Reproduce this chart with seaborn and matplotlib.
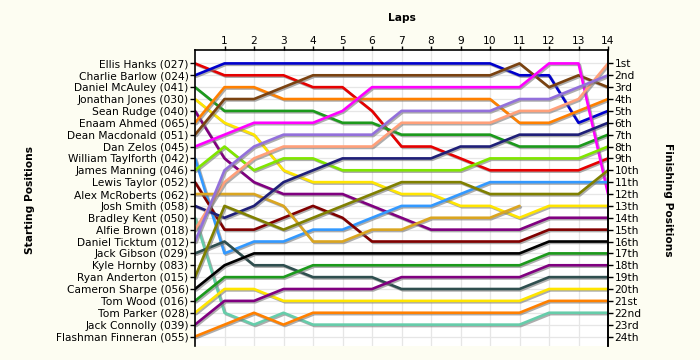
import matplotlib
matplotlib.use("Agg")
import matplotlib.pyplot as plt
import matplotlib.patheffects as pe
import pandas as pd
import seaborn as sns

# lap 0 = grid position, laps 1-14 = position at end of each lap
laps = list(range(15))

drivers = [
    "Ellis Hanks (027)", "Charlie Barlow (024)", "Daniel McAuley (041)",
    "Jonathan Jones (030)", "Sean Rudge (040)", "Enaam Ahmed (065)",
    "Dean Macdonald (051)", "Dan Zelos (045)", "William Taylforth (042)",
    "James Manning (046)", "Lewis Taylor (052)", "Alex McRoberts (062)",
    "Josh Smith (058)", "Bradley Kent (050)", "Alfie Brown (018)",
    "Daniel Ticktum (012)", "Jack Gibson (029)", "Kyle Hornby (083)",
    "Ryan Anderton (015)", "Cameron Sharpe (056)", "Tom Wood (016)",
    "Tom Parker (028)", "Jack Connolly (039)", "Flashman Finneran (055)",
]

# one list per driver, same order as drivers (None = no line drawn)
lap_positions = [
    [1, 2, 2, 2, 3, 3, 5, 8, 8, 9, 10, 10, 10, 10, 9],
    [2, 1, 1, 1, 1, 1, 1, 1, 1, 1, 1, 2, 2, 6, 5],
    [3, 5, 5, 5, 5, 6, 6, 7, 7, 7, 7, 8, 8, 8, 7],
    [4, 6, 7, 10, 11, 11, 11, 12, 12, 13, 13, 14, 13, 13, 13],
    [5, 9, 11, 12, 12, 12, 13, 14, 15, 15, 15, 15, 14, 14, 14],
    [6, 3, 3, 4, 4, 4, 4, 4, 4, 4, 4, 6, 6, 5, 4],
    [7, 4, 4, 3, 2, 2, 2, 2, 2, 2, 2, 1, 3, 2, 3],
    [8, 7, 6, 6, 6, 5, 3, 3, 3, 3, 3, 3, 1, 1, 12],
    [9, 17, 16, 16, 15, 15, 14, 13, 13, 12, 11, 11, 11, 11, 11],
    [10, 8, 10, 9, 9, 10, 10, 10, 10, 10, 9, 9, 9, 9, 8],
    [11, 15, 15, 14, 13, 14, 16, 16, 16, 16, 16, 16, 15, 15, 15],
    [12, 12, 12, 13, 16, 16, 15, 15, 14, 14, 14, 13, None, None, None],
    [13, 14, 13, 11, 10, 9, 9, 9, 9, 8, 8, 7, 7, 7, 6],
    [14, 22, 23, 22, 23, 23, 23, 23, 23, 23, 23, 23, 22, 22, 22],
    [15, 11, 9, 8, 8, 8, 8, 6, 6, 6, 6, 5, 5, 4, 1],
    [16, 10, 8, 7, 7, 7, 7, 5, 5, 5, 5, 4, 4, 3, 2],
    [17, 16, 18, 18, 19, 19, 19, 20, 20, 20, 20, 20, 19, 19, 19],
    None,
    [19, 13, 14, 15, 14, 13, 12, 11, 11, 11, 12, 12, 12, 12, 10],
    [20, 18, 17, 17, 17, 17, 17, 17, 17, 17, 17, 17, 16, 16, 16],
    [21, 19, 19, 19, 18, 18, 18, 18, 18, 18, 18, 18, 17, 17, 17],
    [22, 20, 20, 21, 21, 21, 21, 21, 21, 21, 21, 21, 20, 20, 20],
    [23, 21, 21, 20, 20, 20, 20, 19, 19, 19, 19, 19, 18, 18, 18],
    [24, 23, 22, 23, 22, 22, 22, 22, 22, 22, 22, 22, 21, 21, 21],
]

finish_labels = ["1st", "2nd", "3rd"] + [f"{i}th" for i in range(4, 21)] + ["21st", "22nd", "23rd", "24th"]

line_colors = [
    "#E60000", "#0000CC", "#1C9A1C", "#FFE500", "#800080", "#FF8000",
    "#7A4210", "#FF00FF", "#3399FF", "#80E600", "#800000", "#DAA520",
    "#1F1F78", "#66CDAA", "#FFA07A", "#9370DB", "#2F4F4F", "#BDB76B",
    "#808000", "#000000", "#1C9A1C", "#FFE500", "#800080", "#FF8000",
]

# long table for seaborn
rows = []
for name, pos in zip(drivers, lap_positions):
    if pos is None:
        continue
    for lap, p in zip(laps, pos):
        if p is not None:
            rows.append({"driver": name, "lap": lap, "position": p})
df = pd.DataFrame(rows)

drawn = [d for d, p in zip(drivers, lap_positions) if p is not None]
palette = dict(zip(drivers, line_colors))

sns.set_theme(style="white")
plt.rcParams["font.family"] = ["DejaVu Sans"]
plt.rcParams["text.color"] = "black"
plt.rcParams["xtick.color"] = "black"
plt.rcParams["ytick.color"] = "black"

fs = 7.7
bg = "#FDFDF2"
fig = plt.figure(figsize=(7, 3.6), dpi=100, facecolor=bg)
ax = fig.add_axes([195 / 700, 14 / 360, 413 / 700, 296 / 360])
ax.set_facecolor("white")

sns.lineplot(data=df, x="lap", y="position", hue="driver", hue_order=drawn,
             palette=palette, estimator=None, sort=False, legend=False,
             linewidth=1.9, ax=ax)

for ln in ax.lines:
    ln.set_path_effects([pe.SimpleLineShadow(offset=(1, -1), shadow_color="#777777", alpha=0.6),
                         pe.Normal()])

ymin, ymax = 24.8, -0.13
ax.set_xlim(0, 14)
ax.set_ylim(ymin, ymax)

ax.xaxis.tick_top()
ax.set_xticks(range(1, 15))
ax.set_yticks(range(1, 25))
ax.set_yticklabels(drivers)
ax.grid(True, color="#E6E6E6", linewidth=0.9)
ax.tick_params(axis="y", length=3.6, width=1, colors="black", labelsize=fs, pad=1, left=True)
ax.tick_params(axis="x", length=2.6, width=1, colors="black", labelsize=fs, pad=0.5, top=True, bottom=False)
ax.set_xlabel("")
ax.set_ylabel("")
for side in ["left", "right", "top"]:
    ax.spines[side].set_color("black")
    ax.spines[side].set_linewidth(1.2)
ax.spines["bottom"].set_visible(False)

ax2 = ax.twinx()
ax2.set_ylim(ymin, ymax)
ax2.set_yticks(range(1, 25))
ax2.set_yticklabels(finish_labels)
ax2.tick_params(axis="y", length=3.6, width=1, colors="black", labelsize=fs, pad=1, right=True)
ax2.spines["right"].set_color("black")
ax2.spines["right"].set_linewidth(1.2)
for side in ["left", "top", "bottom"]:
    ax2.spines[side].set_visible(False)

fig.text(402 / 700, 1 - 18 / 360, "Laps", ha="center", va="center", fontsize=fs,
         fontweight="bold", color="black")
fig.text(30 / 700, 1 - 200 / 360, "Starting Positions", ha="center", va="center",
         rotation=90, fontsize=fs, fontweight="bold", color="black")
fig.text(668 / 700, 1 - 200 / 360, "Finishing Positions", ha="center", va="center",
         rotation=270, fontsize=fs, fontweight="bold", color="black")

fig.savefig("out.png", dpi=100, facecolor=bg)
plt.close(fig)
